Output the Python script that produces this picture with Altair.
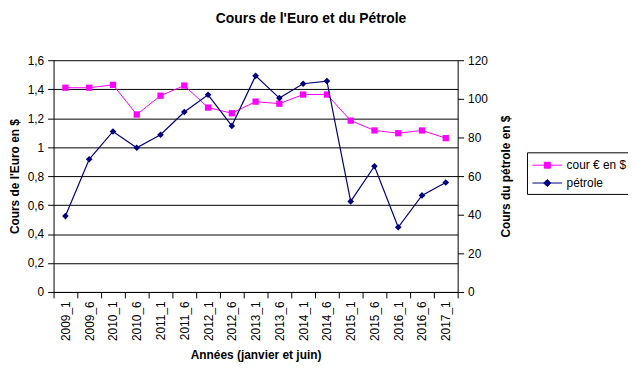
import altair as alt
import pandas as pd

periods = ["2009_1", "2009_6", "2010_1", "2010_6", "2011_1", "2011_6", "2012_1", "2012_6",
           "2013_1", "2013_6", "2014_1", "2014_6", "2015_1", "2015_6", "2016_1", "2016_6", "2017_1"]
euro = [1.41, 1.41, 1.43, 1.225, 1.355, 1.425, 1.273, 1.234,
        1.314, 1.30, 1.363, 1.363, 1.183, 1.115, 1.096, 1.115, 1.062]
petrole = [39.3, 68.7, 83.1, 74.7, 81.4, 93.2, 102.1, 86.0,
           111.9, 100.4, 107.8, 109.2, 46.9, 65.1, 33.5, 50.0, 56.7]
series_names = ["cour € en $", "pétrole"]

df = pd.DataFrame({"periode": periods, "euro": euro, "petrole": petrole})
FONT = "Liberation Sans"
PINK = "#FF00FF"
NAVY = "#000080"

x_enc = alt.X("periode:O", sort=periods, bandPosition=0.5,
              scale=alt.Scale(type="band", paddingInner=0, paddingOuter=0),
              axis=alt.Axis(title="Années (janvier et juin)", labelAngle=270, tickBand="extent",
                            labelFont=FONT, labelFontSize=12, labelColor="black",
                            titleFont=FONT, titleFontSize=12, titleFontWeight="bold",
                            titleColor="black", titlePadding=9, tickSize=6,
                            domainColor="black", tickColor="black", grid=False, labelPadding=3))

y_left = alt.Y("euro:Q", scale=alt.Scale(domain=[0, 1.6], nice=False, zero=True),
               axis=alt.Axis(title="Cours de l'Euro en $", values=[0, 0.2, 0.4, 0.6, 0.8, 1.0, 1.2, 1.4, 1.6],
                             labelExpr="replace(format(datum.value, '.1~f'), '.', ',')",
                             labelFont=FONT, labelFontSize=12, labelColor="black",
                             titleFont=FONT, titleFontSize=12, titleFontWeight="bold",
                             titleColor="black", titlePadding=6, tickSize=6, labelPadding=4,
                             domainColor="black", tickColor="black",
                             grid=True, gridColor="black", gridOpacity=1, gridWidth=1))

y_right = alt.Y("petrole:Q", scale=alt.Scale(domain=[0, 120], nice=False, zero=True),
                axis=alt.Axis(title="Cours du pétrole en $", orient="right",
                              values=[0, 20, 40, 60, 80, 100, 120],
                              labelFont=FONT, labelFontSize=12, labelColor="black",
                              titleFont=FONT, titleFontSize=12, titleFontWeight="bold",
                              titleColor="black", titlePadding=25, titleAngle=270, tickSize=6,
                              labelPadding=4, domainColor="black", tickColor="black", grid=False))

base = alt.Chart(df)
euro_line = base.mark_line(color=PINK, strokeWidth=1).encode(x=x_enc, y=y_left)
euro_pts = base.mark_point(shape="square", filled=True, color=PINK, size=40, opacity=1).encode(x=x_enc, y=y_left)
euro_layer = alt.layer(euro_line, euro_pts)

pet_line = base.mark_line(color=NAVY, strokeWidth=1.2).encode(x=x_enc, y=y_right)
pet_pts = base.mark_point(shape="diamond", filled=True, color=NAVY, size=45, opacity=1).encode(x=x_enc, y=y_right)
pet_layer = alt.layer(pet_line, pet_pts)

leg_df = pd.DataFrame({"series": series_names})
shape_paths = ["M-1,0H3M0.6,-0.4H1.4V0.4H0.6Z", "M-1,0H3M1,-0.48L1.48,0L1,0.48L0.52,0Z"]
leg_scale_c = alt.Scale(domain=series_names, range=[PINK, NAVY])
leg_scale_s = alt.Scale(domain=series_names, range=shape_paths)
legend_layer = alt.Chart(leg_df).mark_point(filled=True, strokeWidth=1, opacity=1).encode(
    fill=alt.Fill("series:N", scale=leg_scale_c, legend=alt.Legend(title=None)),
    stroke=alt.Stroke("series:N", scale=leg_scale_c, legend=alt.Legend(title=None)),
    shape=alt.Shape("series:N", scale=leg_scale_s, legend=alt.Legend(title=None)),
).transform_filter("false")

chart = alt.layer(euro_layer, pet_layer, legend_layer).resolve_scale(y="independent").properties(
    width=408, height=234,
    title=alt.TitleParams("Cours de l'Euro et du Pétrole", font=FONT, fontSize=14, fontWeight="bold",
                          color="black", anchor="middle", dx=56, offset=29),
    autosize=alt.AutoSizeParams(type="none"),
    padding={"left": 46, "top": 51, "right": 172, "bottom": 70},
).configure_view(fill="#C0C0C0", stroke=None).configure_legend(
    orient="none", legendX=478, legendY=93, strokeColor="black", fillColor="white",
    padding=5, labelFont=FONT, labelFontSize=12, labelColor="black",
    symbolSize=225, symbolStrokeWidth=1, rowPadding=4, labelOffset=19
)

chart.save("out.html", embed_options={"renderer": "svg", "actions": False})
